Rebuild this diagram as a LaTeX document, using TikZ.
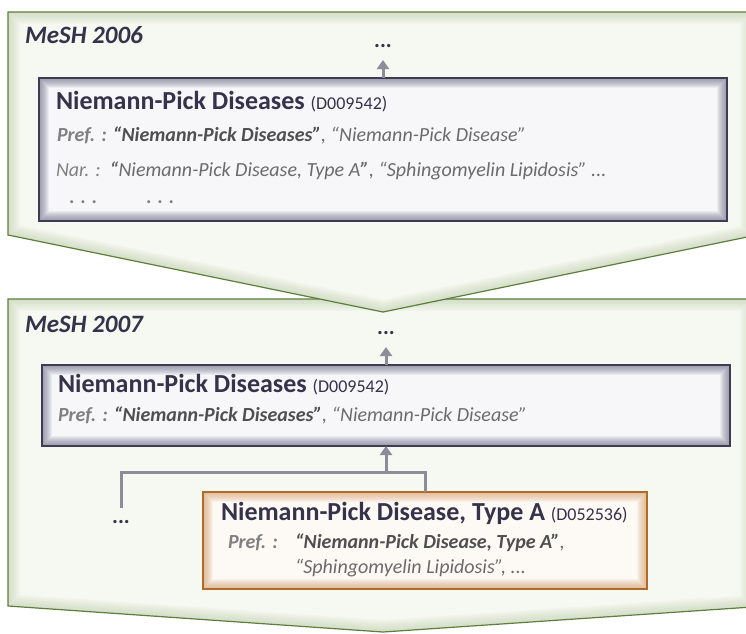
\documentclass[tikz,border=0pt]{standalone}
\usepackage{fontspec}
\setmainfont{Carlito}
\usetikzlibrary{positioning,arrows.meta}
\definecolor{framegreen}{HTML}{5E7E3E}
\definecolor{framefill}{HTML}{F6F8F2}
\definecolor{glowgreen}{HTML}{B9CCA4}
\definecolor{boxline}{HTML}{3E3B52}
\definecolor{boxglow}{HTML}{6E6A86}
\definecolor{boxfill}{HTML}{F7F7FA}
\definecolor{newline}{HTML}{B26A28}
\definecolor{newglow}{HTML}{D49E6C}
\definecolor{newfill}{HTML}{FDF9F5}
\definecolor{titletext}{HTML}{35324A}
\definecolor{graytext}{HTML}{6B6B6B}
\definecolor{labelgray}{HTML}{808080}
\definecolor{darkgray}{HTML}{4F4F4F}
\definecolor{linkgray}{HTML}{8E8C98}
\tikzstyle{every node}=[inner sep=0pt,outer sep=0pt]
\tikzset{glow/.style={path picture={\foreach \lw in {2,4,...,20}
  \draw[#1,line width=\lw pt,opacity=0.09] (path picture bounding box.south west) rectangle (path picture bounding box.north east);}}}
\tikzstyle{frameborder} = [draw=framegreen,line width=1.2pt,line join=miter]
\tikzstyle{frametitle} = [anchor=base west,font=\fontsize{25}{28}\selectfont\bfseries\itshape,text=titletext]
\tikzstyle{termbox} = [rectangle,anchor=north west,draw=boxline,line width=1.5pt,fill=boxfill,glow=boxglow]
\tikzstyle{newbox} = [rectangle,anchor=north west,draw=newline,line width=1.5pt,fill=newfill,glow=newglow]
\tikzstyle{termname} = [anchor=base west,font=\fontsize{26}{30}\selectfont\bfseries,text=titletext]
\tikzstyle{synline} = [anchor=base west,font=\fontsize{20}{24}\selectfont\itshape,text=graytext]
\tikzstyle{dots} = [font=\fontsize{22}{24}\selectfont\bfseries,text=titletext]
\tikzstyle{graydots} = [anchor=base west,font=\fontsize{20}{24}\selectfont\bfseries,text=labelgray]
\tikzstyle{link} = [draw=linkgray,line width=3pt,line join=miter]
\tikzstyle{uparrow} = [link,-{Triangle[width=12pt,length=9pt]}]
\newcommand\termid[1]{{\fontsize{18}{20}\selectfont\mdseries #1}}
\newcommand\preflabel[1]{{\bfseries\color{labelgray}#1}}
\newcommand\prefterm[1]{{\bfseries\color{darkgray}#1}}
\newcommand\frameold{(8,12) -- (752,12) -- (752,236) -- (383,312) -- (8,235) -- cycle}
\newcommand\framenew{(8,299) -- (752,299) -- (752,607) -- (383,632) -- (8,606) -- cycle}
\begin{document}
\begin{tikzpicture}[x=1pt,y=-1pt]
\clip (0,0) rectangle (746,633);

% MeSH 2007
\begin{scope}
\clip \framenew;
\fill[framefill] \framenew;
\foreach \lw in {3,6,...,24} \draw[glowgreen,line width=\lw pt,opacity=0.08] \framenew;
\end{scope}
\draw[frameborder] \framenew;

% MeSH 2006
\begin{scope}
\clip \frameold;
\fill[framefill] \frameold;
\foreach \lw in {3,6,...,24} \draw[glowgreen,line width=\lw pt,opacity=0.08] \frameold;
\end{scope}
\draw[frameborder] \frameold;

\node (mesh06) [frametitle] at (25,43) {MeSH 2006};
\node (dis06) [termbox,minimum width=688pt,minimum height=143pt] at (39,78) {};
\node (up06) [dots,above=30pt of dis06] {...};
\draw [uparrow,shorten >=12pt] (dis06) -- (up06);

\node (name06) [termname] at (56,109) {Niemann-Pick Diseases \termid{(D009542)}};
\node (pref06) [synline] at (57,141) {\preflabel{Pref. :} \prefterm{“Niemann-Pick Diseases”}, “Niemann-Pick Disease”};
\node (nar06) [synline] at (56,176) {{\color{labelgray}Nar. :}\ \ {\bfseries“}Niemann-Pick Disease, Type A{\bfseries”}, “Sphingomyelin Lipidosis” ...};
\node (more06a) [graydots] at (69,203) {. . .};
\node (more06b) [graydots] at (146,203) {. . .};

\node (mesh07) [frametitle] at (25,332) {MeSH 2007};
\node (dis07) [termbox,minimum width=688pt,minimum height=81pt] at (42,365) {};
\node (up07) [dots,above=30pt of dis07] {...};
\draw [uparrow,shorten >=12pt] (dis07) -- (up07);

\node (name07) [termname] at (58,392) {Niemann-Pick Diseases \termid{(D009542)}};
\node (pref07) [synline] at (58,421) {\preflabel{Pref. :} \prefterm{“Niemann-Pick Diseases”}, “Niemann-Pick Disease”};

\node (typea) [newbox,minimum width=444pt,minimum height=97pt] at (203,492) {};
\node (nametypea) [termname] at (221,520) {Niemann-Pick Disease, Type A \termid{(D052536)}};
\node (preftypea) [synline] at (228,548) {\preflabel{Pref. :}};
\node (syntypea) [synline] at (295,548) {\prefterm{“Niemann-Pick Disease, Type A”},};
\node (syntypeb) [synline] at (295,573) {“Sphingomyelin Lipidosis”, ...};

\node (more07) [dots] at (121,522) {...};
\coordinate (junction) at (dis07.south |- 0,472);
\draw [link,shorten <=12pt] (more07.north) |- (junction) -| (typea.north);
\draw [uparrow] (junction) -- (dis07.south);
\end{tikzpicture}
\end{document}
